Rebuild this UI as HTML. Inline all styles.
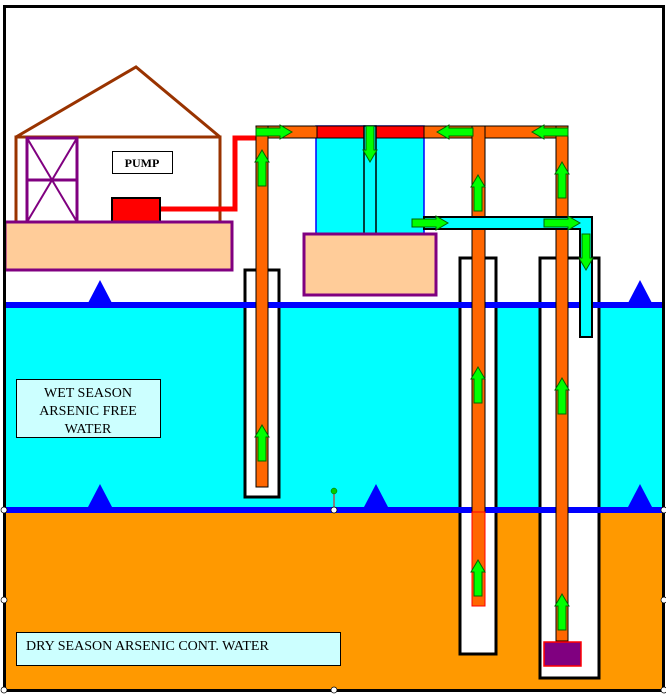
<!DOCTYPE html>
<html><head><meta charset="utf-8"><style>
html,body{margin:0;padding:0;background:#fff;}
svg{display:block;}
text{font-family:"Liberation Serif",serif;}
</style></head><body>
<svg width="666" height="698" viewBox="0 0 666 698" xmlns="http://www.w3.org/2000/svg">
<defs>
<g id="up"><polygon points="-4,24 -4,0 -7,0 0,-12 7,0 4,0 4,24" fill="#00FF00" stroke="#006600" stroke-width="1"/></g>
</defs>
<rect x="0" y="0" width="666" height="698" fill="#fff"/>
<rect x="4" y="305" width="660" height="205" fill="#00FFFF"/>
<rect x="4" y="510" width="660" height="180" fill="#FF9900"/>
<rect x="245" y="270" width="34" height="227" fill="#fff" stroke="#000" stroke-width="3"/>
<rect x="460" y="258" width="36" height="396" fill="#fff" stroke="#000" stroke-width="3"/>
<rect x="540" y="258" width="59" height="420" fill="#fff" stroke="#000" stroke-width="3"/>
<rect x="4" y="302" width="660" height="6" fill="#0000FF"/>
<rect x="4" y="507" width="660" height="6" fill="#0000FF"/>
<polygon points="100,280 88,303 112,303" fill="#0000FF"/>
<polygon points="640,280 628,303 652,303" fill="#0000FF"/>
<polygon points="100,484 88,507 112,507" fill="#0000FF"/>
<polygon points="376,484 364,507 388,507" fill="#0000FF"/>
<polygon points="640,484 628,507 652,507" fill="#0000FF"/>
<polyline points="16,137 136,67 220,137" fill="none" stroke="#993300" stroke-width="3"/>
<rect x="16" y="137" width="204" height="85" fill="none" stroke="#993300" stroke-width="3"/>
<rect x="27" y="138" width="50" height="84" fill="none" stroke="#800080" stroke-width="3"/>
<line x1="27" y1="180" x2="77" y2="180" stroke="#800080" stroke-width="3"/>
<line x1="27" y1="138" x2="77" y2="222" stroke="#800080" stroke-width="2"/>
<line x1="77" y1="138" x2="27" y2="222" stroke="#800080" stroke-width="2"/>
<rect x="112.5" y="151.5" width="60" height="22" fill="#fff" stroke="#000" stroke-width="1"/>
<text x="142" y="167" font-size="12" font-weight="bold" text-anchor="middle">PUMP</text>
<polyline points="160,209 235,209 235,138 257,138" fill="none" stroke="#FF0000" stroke-width="5"/>
<rect x="112" y="198" width="48" height="24" fill="#FF0000" stroke="#000" stroke-width="2"/>
<rect x="5" y="222" width="227" height="48" fill="#FFCC99" stroke="#800080" stroke-width="3"/>
<rect x="316" y="126" width="108" height="108" fill="#00FFFF" stroke="#0000FF" stroke-width="1.5"/>
<rect x="317" y="126" width="107" height="12" fill="#FF0000" stroke="#000" stroke-width="1"/>
<rect x="364" y="126" width="12" height="108" fill="#00FFFF" stroke="#000" stroke-width="1.5"/>
<rect x="304" y="234" width="132" height="61" fill="#FFCC99" stroke="#800080" stroke-width="3"/>
<rect x="256" y="126" width="61" height="12" fill="#FF6600" stroke="#000" stroke-width="1"/>
<rect x="424" y="126" width="144" height="12" fill="#FF6600" stroke="#000" stroke-width="1"/>
<rect x="256" y="126" width="12" height="361" fill="#FF6600" stroke="#000" stroke-width="1"/>
<rect x="472" y="126" width="13" height="480" fill="#FF6600" stroke="#000" stroke-width="1"/>
<rect x="472" y="512" width="13" height="94" fill="#FF6600" stroke="#FF0000" stroke-width="1"/>
<rect x="556" y="126" width="12" height="515" fill="#FF6600" stroke="#000" stroke-width="1"/>
<rect x="544" y="642" width="37" height="24" fill="#800080" stroke="#FF0000" stroke-width="1.5"/>
<rect x="424" y="217" width="168" height="12" fill="#00FFFF" stroke="#000" stroke-width="2"/>
<rect x="580" y="229" width="12" height="108" fill="#00FFFF" stroke="#000" stroke-width="2"/>
<rect x="581" y="218" width="10" height="14" fill="#00FFFF"/>
<use href="#up" transform="translate(262,162)"/>
<use href="#up" transform="translate(262,437)"/>
<use href="#up" transform="translate(478,187)"/>
<use href="#up" transform="translate(478,379)"/>
<use href="#up" transform="translate(478,572)"/>
<use href="#up" transform="translate(562,174)"/>
<use href="#up" transform="translate(562,390)"/>
<use href="#up" transform="translate(562,606)"/>
<use href="#up" transform="translate(280,132) rotate(90)"/>
<use href="#up" transform="translate(449,132) rotate(-90)"/>
<use href="#up" transform="translate(544,132) rotate(-90)"/>
<use href="#up" transform="translate(370,150) rotate(180)"/>
<use href="#up" transform="translate(436,223) rotate(90)"/>
<use href="#up" transform="translate(568,223) rotate(90)"/>
<use href="#up" transform="translate(586,258) rotate(180)"/>
<rect x="16.5" y="379.5" width="144" height="58" fill="#CCFFFF" stroke="#000" stroke-width="1"/>
<text x="88" y="397" font-size="14" text-anchor="middle">WET SEASON</text>
<text x="88" y="415" font-size="14" text-anchor="middle">ARSENIC FREE</text>
<text x="88" y="433" font-size="14" text-anchor="middle">WATER</text>
<rect x="16.5" y="632.5" width="324" height="33" fill="#CCFFFF" stroke="#000" stroke-width="1"/>
<text x="26" y="650" font-size="14">DRY SEASON ARSENIC CONT. WATER</text>
<line x1="334" y1="491" x2="334" y2="510" stroke="#FF0000" stroke-width="1"/>
<circle cx="334" cy="491" r="3" fill="#00CC00" stroke="#006600" stroke-width="0.5"/>
<rect x="4.5" y="6.5" width="659" height="684" fill="none" stroke="#000" stroke-width="3"/>
<g fill="#fff" stroke="#000" stroke-width="0.7">
<circle cx="4" cy="510" r="3"/><circle cx="334" cy="510" r="3"/><circle cx="664" cy="510" r="3"/>
<circle cx="4" cy="600" r="3"/><circle cx="664" cy="600" r="3"/>
<circle cx="4" cy="690" r="3"/><circle cx="334" cy="690" r="3"/><circle cx="664" cy="690" r="3"/>
</g>
</svg>
</body></html>
